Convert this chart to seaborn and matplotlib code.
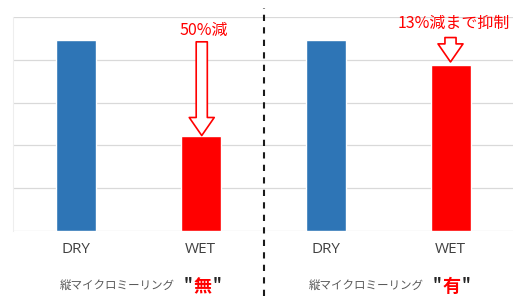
import pandas as pd
import matplotlib.pyplot as plt
import seaborn as sns
from matplotlib.lines import Line2D

# data (gridlines = 1 unit)
groups = ["無_DRY", "無_WET", "有_DRY", "有_WET"]
tick_labels = ["DRY", "WET", "DRY", "WET"]
values = [4.47, 2.23, 4.47, 3.89]
colors = ["#2E75B6", "#FF0000", "#2E75B6", "#FF0000"]
notes = ["50%減", "13%減まで抑制"]
group_names = ["無", "有"]

sns.set_style("white")
plt.rcParams["font.family"] = ["Noto Sans CJK JP", "DejaVu Sans"]

df = pd.DataFrame({"grp": groups, "val": values})

fig = plt.figure(figsize=(5.14, 2.96), dpi=100)
ax = fig.add_axes([13 / 514, 1 - 231 / 296, 500 / 514, 214 / 296])
sns.barplot(data=df, x="grp", y="val", hue="grp", palette=colors, width=0.32,
            legend=False, ax=ax, saturation=1)
ax.set_ylim(0, 5)
ax.set_xlim(-0.5, 3.5)
ax.set_yticks(range(0, 6))
ax.yaxis.grid(True, color="#d9d9d9", lw=0.9)
ax.set_axisbelow(True)
ax.set_yticklabels([])
ax.tick_params(length=0)
ax.set_xticks(range(4))
ax.set_xticklabels(tick_labels, color="#404040", fontsize=11, family=["Open Sans", "DejaVu Sans"])
ax.tick_params(axis="x", pad=8)
ax.set_xlabel("")
ax.set_ylabel("")
for s in ["top", "right", "bottom"]:
    ax.spines[s].set_visible(False)
ax.spines["left"].set_color("#eeeeee")
ax.spines["left"].set_linewidth(0.8)

# hollow arrows + notes
arrow_style = "simple,head_width=0.9,head_length=0.65,tail_width=0.4"
ax.annotate("", xy=(1.01, values[1]), xytext=(1.01, 4.42),
            arrowprops=dict(arrowstyle=arrow_style, fc="white", ec="#FF0000", lw=1.2,
                            shrinkA=0, shrinkB=0, mutation_scale=20))
ax.text(1.03, 4.68, notes[0], color="#FF0000", fontsize=11.5, ha="center", va="center")
ax.annotate("", xy=(3.0, values[3] + 0.06), xytext=(3.0, 4.52),
            arrowprops=dict(arrowstyle=arrow_style, fc="white", ec="#FF0000", lw=1.2,
                            shrinkA=0, shrinkB=0, mutation_scale=20))
ax.text(3.03, 4.84, notes[1], color="#FF0000", fontsize=11.5, ha="center", va="center")

# group captions under the axis
for cx, name in zip([175 / 514, 424 / 514], group_names):
    t = fig.text(cx, 1 - 285 / 296, "縦マイクロミーリング", color="#595959", fontsize=8.3,
                 ha="right", va="center")
    q1 = ax.annotate('"', xy=(1, 0.5), xycoords=t, xytext=(6, 0), textcoords="offset points",
                     color="#262626", fontsize=11, fontweight="bold", ha="left", va="center")
    mid = ax.annotate(name, xy=(1, 0.5), xycoords=q1, xytext=(1, -1), textcoords="offset points",
                      color="#FF0000", fontsize=13, fontweight="bold", ha="left", va="center")
    ax.annotate('"', xy=(1, 0.5), xycoords=mid, xytext=(1, 1), textcoords="offset points",
                color="#262626", fontsize=11, fontweight="bold", ha="left", va="center")

# dashed separator
fig.add_artist(Line2D([264 / 514, 264 / 514], [0, 1 - 8 / 296], transform=fig.transFigure,
                      color="#1a1a1a", lw=1.5, linestyle=(0, (3, 3))))

fig.savefig("out.png", dpi=100)
